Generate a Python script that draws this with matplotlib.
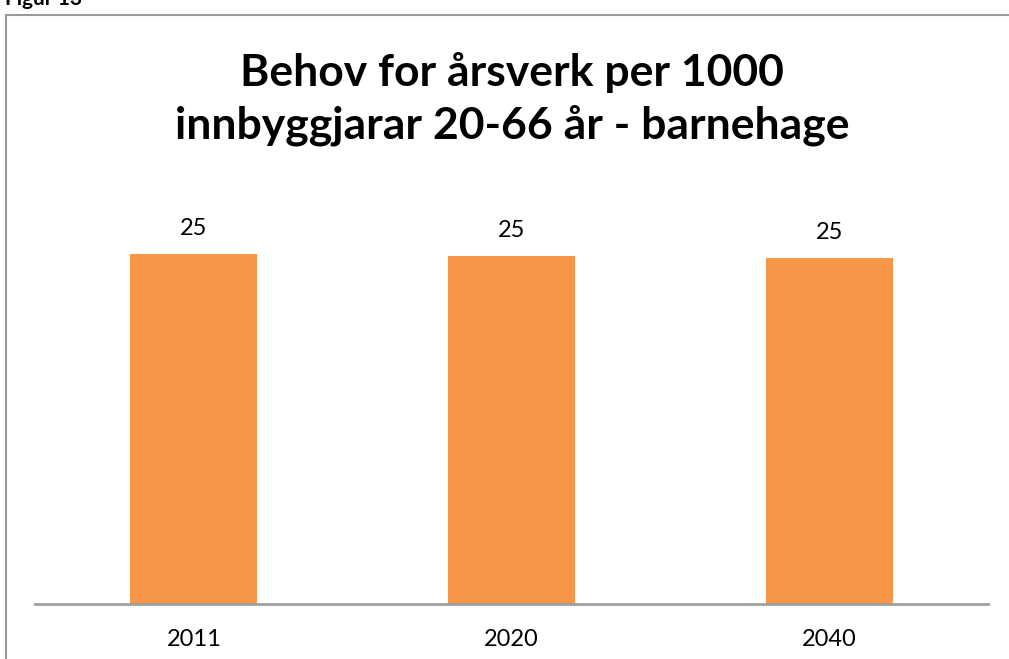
import matplotlib.pyplot as plt
from matplotlib.patches import Rectangle

# data
years = ["2011", "2020", "2040"]
values = [25.4, 25.25, 25.1]
labels = ["25", "25", "25"]

W, H = 1009, 659
fig = plt.figure(figsize=(W / 100, H / 100), dpi=100)
plt.rcParams["font.family"] = ["Lato", "DejaVu Sans"]

# outer frame (cut off at right and bottom)
fig.patches.append(Rectangle((6 / W, -0.1), 1.2, 1 - 15 / H + 0.1,
                             transform=fig.transFigure, fill=False,
                             edgecolor="#9a9a9a", lw=1.5))
fig.text(5 / W, 1 - 5 / H, "Figur 13", fontsize=15, fontweight="bold",
         va="baseline", ha="left")

ax = fig.add_axes([35 / W, 55 / H, 953 / W, 413.4 / H])
x = range(len(years))
bars = ax.bar(x, values, width=0.4, color="#F79646")
ax.set_xlim(-0.5, 2.5)
ax.set_ylim(0, 30)
for rect, lab in zip(bars, labels):
    ax.annotate(lab, (rect.get_x() + rect.get_width() / 2, rect.get_height()),
                xytext=(0, 11), textcoords="offset points",
                ha="center", va="bottom", fontsize=17)

ax.set_xticks(list(x))
ax.set_xticklabels(years, fontsize=17)
ax.tick_params(axis="x", length=0, pad=18)
ax.set_yticks([])
for s in ["top", "right", "left"]:
    ax.spines[s].set_visible(False)
ax.spines["bottom"].set_color("#a0a0a0")
ax.spines["bottom"].set_linewidth(2)

fig.text(512 / W, 1 - 99 / H,
         "Behov for årsverk per 1000\ninnbyggjarar 20-66 år - barnehage",
         ha="center", va="center", fontsize=32, fontweight="bold",
         linespacing=1.35)

fig.savefig("out.png", dpi=100)
